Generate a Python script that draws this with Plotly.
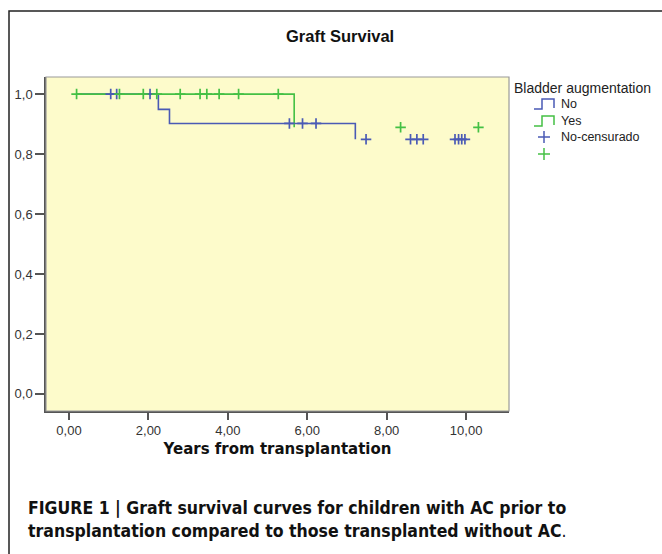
import plotly.graph_objects as go
import numpy as np

# ---- data ----
# Kaplan-Meier step curves (times of start/events, survival level after each)
no_times = [0.19, 2.25, 2.53, 7.21]
no_surv = [1.0, 0.949, 0.902, 0.849]
yes_times = [0.19, 5.67]
yes_surv = [1.0, 0.889]

# censored observations (years)
no_censored = [1.05, 1.20, 2.04, 5.55, 5.88, 6.22, 7.48, 8.60, 8.76, 8.92, 9.72, 9.81, 9.89, 9.97]
yes_censored = [0.19, 1.27, 1.87, 2.21, 2.80, 3.30, 3.47, 3.78, 4.27, 5.27, 8.35, 10.31]

x_ticks = [0, 2, 4, 6, 8, 10]
y_ticks = [0.0, 0.2, 0.4, 0.6, 0.8, 1.0]

BLUE = "#4a5ab5"
GREEN = "#44c044"


def level_at(times, surv, t):
    idx = np.searchsorted(np.array(times), t, side="right") - 1
    idx = max(idx, 0)
    return surv[idx]


W, H = 662, 554
L, R, T, B = 46, 509, 77, 411


def px(x):
    return (x - L) / (R - L)


def py(y):
    return (B - y) / (B - T)


fig = go.Figure()

fig.add_trace(go.Scatter(x=no_times, y=no_surv, mode="lines", line=dict(color=BLUE, width=1.6, shape="hv"),
                         showlegend=False, hoverinfo="skip"))
fig.add_trace(go.Scatter(x=yes_times, y=yes_surv, mode="lines", line=dict(color=GREEN, width=1.6, shape="hv"),
                         showlegend=False, hoverinfo="skip"))
fig.add_trace(go.Scatter(x=no_censored, y=[level_at(no_times, no_surv, t) for t in no_censored], mode="markers",
                         marker=dict(symbol="cross-thin", size=7.5, line=dict(color=BLUE, width=1.7)),
                         showlegend=False, hoverinfo="skip"))
fig.add_trace(go.Scatter(x=yes_censored, y=[level_at(yes_times, yes_surv, t) for t in yes_censored], mode="markers",
                         marker=dict(symbol="cross-thin", size=7.5, line=dict(color=GREEN, width=1.7)),
                         showlegend=False, hoverinfo="skip"))

shapes = []
# outer frame
shapes.append(dict(type="rect", xref="paper", yref="paper", x0=px(9), x1=px(700), y0=py(600), y1=py(11),
                   line=dict(color="#222222", width=1.5), fillcolor="rgba(0,0,0,0)", layer="below"))
# plot border (light)
shapes.append(dict(type="rect", xref="paper", yref="paper", x0=0, x1=1, y0=0, y1=1,
                   line=dict(color="#9a9a9a", width=1.2), fillcolor="rgba(0,0,0,0)", layer="above"))

# legend icons
def step_icon(x0, yc, color):
    a, b = x0, x0 + 20
    path = (f"M {px(a)} {py(yc+5)} L {px(a+8)} {py(yc+5)} L {px(a+8)} {py(yc-5)} "
            f"L {px(b)} {py(yc-5)} L {px(b)} {py(yc+4)}")
    return dict(type="path", xref="paper", yref="paper", path=path, line=dict(color=color, width=1.5))

shapes.append(step_icon(534, 104, BLUE))
shapes.append(step_icon(534, 121, GREEN))

def plus_icon(xc, yc, color):
    return [dict(type="line", xref="paper", yref="paper", x0=px(xc-6), x1=px(xc+6), y0=py(yc), y1=py(yc),
                 line=dict(color=color, width=1.5)),
            dict(type="line", xref="paper", yref="paper", x0=px(xc), x1=px(xc), y0=py(yc-6), y1=py(yc+6),
                 line=dict(color=color, width=1.5))]

shapes += plus_icon(544, 137, BLUE)
shapes += plus_icon(544, 154, GREEN)

ann = []
ann.append(dict(text="<b>Graft Survival</b>", x=px(340), y=py(36), xref="paper", yref="paper", showarrow=False,
                font=dict(family="Liberation Sans, Arial", size=16.5, color="#111111"), xanchor="center", yanchor="middle"))
ann.append(dict(text="Bladder augmentation", x=px(512), y=py(88), xref="paper", yref="paper", showarrow=False,
                font=dict(family="Liberation Sans, Arial", size=14, color="#222222"), xanchor="left", yanchor="middle"))
for label, yc in [("No", 104), ("Yes", 121), ("No-censurado", 137)]:
    ann.append(dict(text=label, x=px(559), y=py(yc), xref="paper", yref="paper", showarrow=False,
                    font=dict(family="Liberation Sans, Arial", size=12.5, color="#222222"), xanchor="left", yanchor="middle"))
ann.append(dict(text="<b>FIGURE 1 | Graft survival curves for children with AC prior to<br>"
                     "transplantation compared to those transplanted without AC</b>.",
                x=px(26), y=py(519), xref="paper", yref="paper", showarrow=False, align="left",
                font=dict(family="Liberation Sans Narrow, DejaVu Sans Condensed, Arial Narrow", size=17.5, color="#111111"),
                xanchor="left", yanchor="middle"))

fig.update_layout(
    width=W, height=H,
    margin=dict(l=L, r=W - R, t=T, b=H - B, pad=0),
    paper_bgcolor="white",
    plot_bgcolor="#fdfbcb",
    separators=",.",
    showlegend=False,
    shapes=shapes,
    annotations=ann,
    xaxis=dict(range=[-0.58, 11.08], tickvals=x_ticks, tickformat=".2f", ticks="outside", ticklen=7,
               tickcolor="#555555", tickwidth=1.5, showgrid=False, zeroline=False, showline=True,
               linecolor="#555555", linewidth=1.5,
               tickfont=dict(family="Liberation Sans, Arial", size=13, color="#333333"),
               title=dict(text="<b>Years from transplantation</b>", standoff=6,
                          font=dict(family="DejaVu Sans, Verdana", size=15, color="#111111"))),
    yaxis=dict(range=[-0.057, 1.057], tickvals=y_ticks, tickformat=".1f", ticks="outside", ticklen=9,
               tickcolor="#555555", tickwidth=1.5, showgrid=False, zeroline=False, showline=True,
               linecolor="#555555", linewidth=1.5,
               tickfont=dict(family="Liberation Sans, Arial", size=13, color="#333333")),
)

fig.write_html("out.html", config={"displayModeBar": False},
               post_script="document.body.style.margin='0';document.body.style.overflow='hidden';")
